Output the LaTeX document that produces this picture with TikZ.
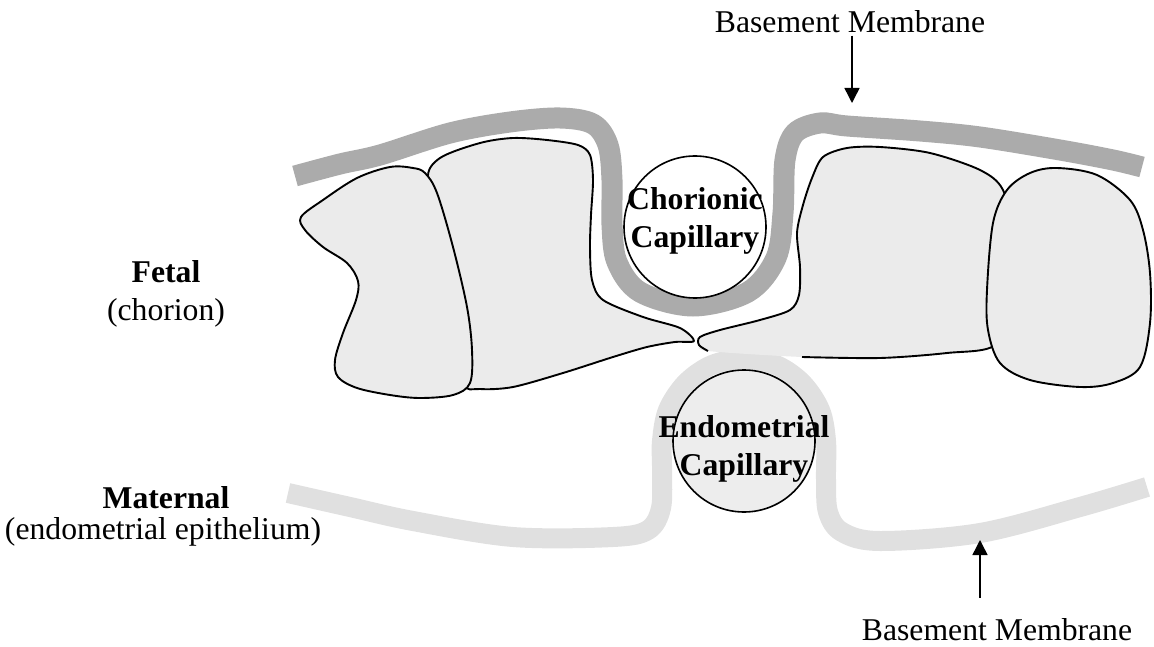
\documentclass[tikz,border=0pt]{standalone}
\usepackage{fontspec}
\setmainfont{Liberation Serif}
\usetikzlibrary{arrows.meta}
\newcommand{\labelsize}{\fontsize{31.7pt}{38pt}\selectfont}

\begin{document}
\begin{tikzpicture}[
    x=1pt, y=-1pt,
    font=\labelsize,
    lbl/.style={anchor=base, inner sep=2pt},
    caplabel/.style={font=\labelsize\bfseries, align=center, inner sep=0pt},
    cellfill/.style={fill=black!8},
    cellline/.style={draw=black, line width=1.9pt, line join=round},
    cell/.style={cellfill, cellline},
    chorband/.style={draw=black!33, line width=21pt},
    matband/.style={draw=black!12, line width=20pt},
    capillary/.style={circle, draw=black, line width=1.6pt, minimum size=142pt, inner sep=0pt},
    pointer/.style={-{Triangle[length=15pt,width=15pt]}, line width=1.5pt}]
  \useasboundingbox (0,0) rectangle (1154,647);

  % maternal epithelium, lifted over the endometrial capillary
  \draw[matband] plot[smooth, tension=0.55] coordinates {
    (288,493) (350,507) (413,521) (513,537) (613,537) (648,530) (661,508)
    (662,470) (662,441) (668,410) (686,383) (712,365) (744,359) (776,365)
    (802,383) (820,410) (826,441) (826,480) (828,512) (842,532) (880,541)
    (980,533) (1080,507) (1147,487)};
  \node[capillary, fill=black!7] (endocap) at (744,441) {};

  % chorionic basement membrane
  \draw[chorband] plot[smooth, tension=0.55] coordinates {
    (295,176) (340,164) (380,155) (450,133) (510,122) (560,118) (593,124)
    (608,145) (612,180) (612,225) (617,262) (640,292) (693,306) (748,292)
    (776,258) (783,213) (785,160) (795,133) (820,123) (847,126) (920,131)
    (980,137) (1060,150) (1113,160) (1142,167)};

  % trophoblast cells
  \draw[cell] plot[smooth cycle, tension=0.5] coordinates {
    (428,180) (440,158) (480,143) (513,138) (547,140) (578,145) (590,155)
    (593,180) (591,215) (590,247) (592,280) (603,300) (643,317) (680,328)
    (694,341) (675,342) (647,347) (613,357) (563,373) (513,387) (480,389)
    (463,383) (462,320) (448,240)};
  \draw[cell] plot[smooth cycle, tension=0.55] coordinates {
    (301,217) (305,230) (323,247) (347,263) (358,281) (356,300) (343,333)
    (335,360) (338,377) (357,388) (390,395) (420,398) (453,395) (470,383)
    (472,350) (467,307) (453,247) (437,193) (425,173) (413,168) (390,167)
    (357,178) (323,200)};
  \fill[cellfill] plot[smooth cycle, tension=0.5] coordinates {
    (708,351) (699,345) (700,337) (720,330) (760,320) (790,310) (799,295)
    (800,267) (797,233) (803,205) (812,178) (823,157) (847,148) (880,147)
    (930,153) (980,170) (1003,190) (1015,240) (1012,300) (995,345)
    (947,353) (880,358) (802,357)};
  \draw[cellline] plot[smooth, tension=0.5] coordinates {
    (708,351) (699,345) (700,337) (720,330) (760,320) (790,310) (799,295)
    (800,267) (797,233) (803,205) (812,178) (823,157) (847,148) (880,147)
    (930,153) (980,170) (1003,190) (1015,240) (1012,300) (995,345)
    (947,353) (880,358) (802,357)};
  \draw[cell] plot[smooth cycle, tension=0.55] coordinates {
    (1007,190) (1030,173) (1057,168) (1097,175) (1130,200) (1143,230)
    (1150,273) (1150,323) (1140,367) (1113,383) (1080,387) (1030,380)
    (1000,363) (988,330) (987,290) (993,223)};

  % capillaries
  \node[capillary, fill=white] (chorcap) at (695,227) {};
  \node[caplabel, yshift=6pt] (chorlabel) at (chorcap) {Chorionic\\Capillary};
  \node[caplabel, yshift=-7.5pt] (endolabel) at (endocap) {Endometrial\\Capillary};

  % side labels
  \node[lbl] (fetal) at (166,282) {\bfseries Fetal};
  \node[lbl] (chorion) at ([yshift=-38pt]fetal.base) {(chorion)};
  \node[lbl] (maternal) at (166,508) {\bfseries Maternal};
  \node[lbl] (epith) at ([xshift=-3pt,yshift=-31pt]maternal.base) {(endometrial epithelium)};

  % basement membrane pointers
  \node[lbl] (topmem) at (850,33) {Basement Membrane};
  \coordinate (topmemtip) at (852,103);
  \draw[pointer] (topmem.south -| topmemtip) -- (topmemtip);
  \node[lbl] (botmem) at (997,640) {Basement Membrane};
  \coordinate (botmemtip) at (980,540);
  \draw[pointer, shorten <=18pt] (botmem.north -| botmemtip) -- (botmemtip);
\end{tikzpicture}
\end{document}
